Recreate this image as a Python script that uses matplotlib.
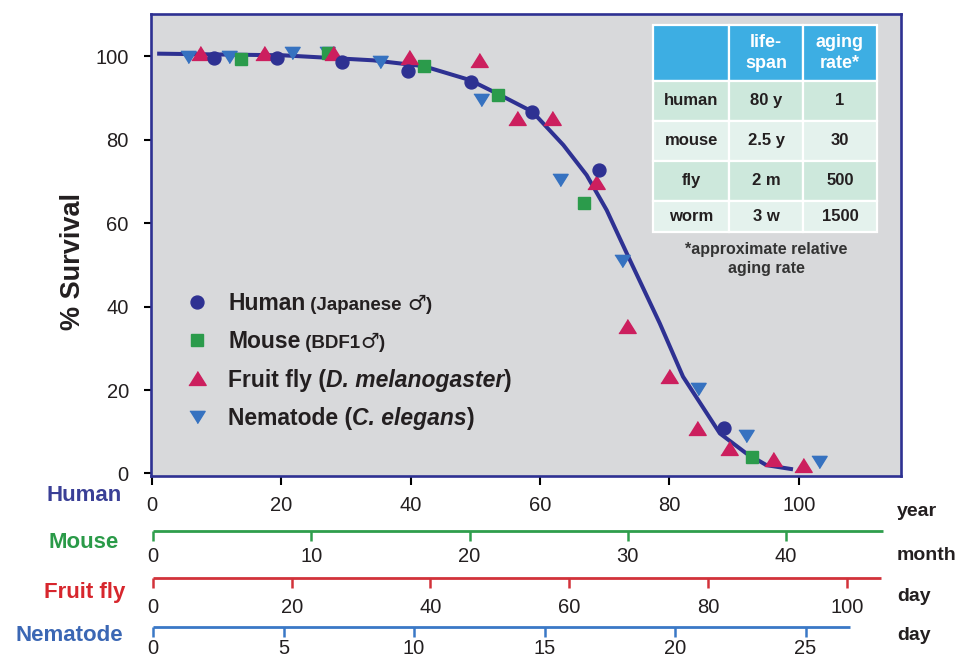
import matplotlib
matplotlib.use("Agg")
import matplotlib.pyplot as plt

plt.rcParams['font.family'] = ['Liberation Sans', 'DejaVu Sans']

W, H = 960, 657

# 데이터
human_age = [9.6, 19.3, 29.4, 39.6, 49.3, 58.8, 69.1, 88.5]
human_surv = [99.6, 99.6, 98.5, 96.4, 93.7, 86.7, 72.7, 11.0]

mouse_age = [13.8, 27.2, 42.0, 53.5, 66.8, 92.8]
mouse_surv = [99.3, 100.8, 97.6, 90.6, 64.9, 3.9]

fly_age = [7.4, 17.3, 28.0, 39.8, 50.5, 56.5, 61.9, 68.6, 73.5, 79.9, 84.2, 89.2, 96.0, 100.7]
fly_surv = [100.8, 100.8, 100.8, 99.7, 99.0, 85.1, 85.3, 69.9, 35.4, 23.4, 11.0, 6.2, 3.5, 2.0]

worm_age = [5.6, 11.9, 21.6, 27.0, 35.2, 50.8, 63.1, 72.7, 84.4, 91.8, 103.1]
worm_surv = [99.8, 99.8, 100.8, 100.8, 98.6, 89.5, 70.3, 50.9, 20.2, 9.1, 2.7]

curve_age = [0.8, 20.3, 34.2, 42.0, 49.1, 53.8, 58.8, 63.6, 67.2, 70.3, 73.9,
             78.5, 82.1, 87.8, 91.9, 95.0, 99.1]
curve_surv = [100.6, 100.2, 99.0, 97.6, 94.3, 90.7, 86.7, 78.7, 71.5, 63.1, 51.1,
              36.0, 23.2, 9.6, 4.8, 2.0, 1.0]

human_ticks = [0, 20, 40, 60, 80, 100]
mouse_ticks = [0, 10, 20, 30, 40]
fly_ticks = [0, 20, 40, 60, 80, 100]
worm_ticks = [0, 5, 10, 15, 20, 25]
y_ticks = [0, 20, 40, 60, 80, 100]

# 표 데이터
table_header = ["", "life-\nspan", "aging\nrate*"]
table_species = ["human", "mouse", "fly", "worm"]
table_lifespan = ["80 y", "2.5 y", "2 m", "3 w"]
table_rate = ["1", "30", "500", "1500"]

NAVY = "#2e3192"
GREEN = "#2b9b4b"
CRIMSON = "#cc1f5e"
BLUE = "#3672c0"
TEXT = "#231f20"

fig = plt.figure(figsize=(W / 100, H / 100), dpi=100)

# 메인 축 (픽셀 위치 기준)
ax_l, ax_r, ax_t, ax_b = 151, 901, 14, 476
ax = fig.add_axes([ax_l / W, 1 - ax_b / H, (ax_r - ax_l) / W, (ax_b - ax_t) / H])
ax.set_facecolor("#d8d9db")
ax.set_xlim(-0.15, 115.8)
ax.set_ylim(-0.6, 110.1)
for sp in ax.spines.values():
    sp.set_color(NAVY)
    sp.set_linewidth(1.9)

ax.set_yticks(y_ticks)
ax.set_xticks(human_ticks)
ax.tick_params(axis='y', direction='out', length=5, width=1.5, color='black',
               labelsize=14.5, pad=11, labelcolor=TEXT)
ax.tick_params(axis='x', direction='out', length=6.5, width=1.5, color='black',
               labelsize=14.5, pad=8, labelcolor=TEXT)

# 곡선 + 마커
ax.plot(curve_age, curve_surv, color=NAVY, lw=2.9, zorder=2,
        solid_capstyle='butt', solid_joinstyle='round')

tri_up = [(-1, -0.8), (1, -0.8), (0, 0.8)]
tri_dn = [(-1, 0.8), (1, 0.8), (0, -0.8)]

ax.plot(worm_age, worm_surv, ls='none', marker=tri_dn, ms=11, color=BLUE, mec=BLUE, zorder=3)
ax.plot(mouse_age, mouse_surv, ls='none', marker='s', ms=8, color=GREEN, mec=GREEN, zorder=4)
ax.plot(fly_age, fly_surv, ls='none', marker=tri_up, ms=12.5, color=CRIMSON, mec=CRIMSON, zorder=5)
ax.plot(human_age, human_surv, ls='none', marker='o', ms=9.3, color=NAVY, mec=NAVY, zorder=6)


def px2ax(px, py):
    return (px - ax_l) / (ax_r - ax_l), (ax_b - py) / (ax_b - ax_t)


# 범례 마커
legend_rows = [
    (302, 'o', 9.3, NAVY),
    (340, 's', 8, GREEN),
    (378, tri_up, 12.5, CRIMSON),
    (417, tri_dn, 11, BLUE),
]
for py, mk, ms, col in legend_rows:
    lx, ly = px2ax(197, py)
    ax.plot([lx], [ly], transform=ax.transAxes, ls='none', marker=mk, ms=ms,
            color=col, mec=col, clip_on=False, zorder=7)

renderer = fig.canvas.get_renderer()


def rich_text(x, y, parts):
    # 여러 조각 텍스트를 이어 붙이기 (픽셀 좌표, 위쪽 원점)
    xd = x
    for s, kw in parts:
        t = fig.text(xd / W, 1 - y / H, s, ha='left', va='baseline', color=TEXT, **kw)
        bb = t.get_window_extent(renderer)
        xd = bb.x1


big = dict(fontsize=16.5, fontweight='bold')
bigi = dict(fontsize=16.5, fontweight='bold', fontstyle='italic')
small = dict(fontsize=13.5, fontweight='bold')
male = dict(fontsize=15, fontweight='normal', family=['DejaVu Sans'])

rich_text(228, 310.5, [("Human", big), (" (Japanese ", small), ("\u2642", male), (")", small)])
rich_text(228, 348.5, [("Mouse", big), (" (BDF1", small), ("\u2642", male), (")", small)])
rich_text(228, 386.5, [("Fruit fly (", big), ("D. melanogaster", bigi), (")", big)])
rich_text(228, 425.0, [("Nematode (", big), ("C. elegans", bigi), (")", big)])

# y축 라벨
fig.text(73 / W, 1 - 261 / H, "% Survival", rotation=90, ha='center', va='center',
         fontsize=19.5, fontweight='bold', color=TEXT)

# 표
tx0, ty0 = px2ax(653.3, 231.7)
tx1, ty1 = px2ax(877.3, 25)
cell_text = [[s, l, r] for s, l, r in zip(table_species, table_lifespan, table_rate)]
col_w = [76, 73.4, 74.6]
tbl = ax.table(cellText=cell_text, colLabels=table_header, cellLoc='center',
               colWidths=[c / sum(col_w) for c in col_w],
               bbox=[tx0, ty0, tx1 - tx0, ty1 - ty0], zorder=8)
tbl.auto_set_font_size(False)
row_h = [56, 40, 40, 40, 31]
row_col = ["#3daee3", "#cde8dc", "#e4f2ed", "#cde8dc", "#e4f2ed"]
for (r, c), cell in tbl.get_celld().items():
    cell.set_height(row_h[r] / sum(row_h))
    cell.set_edgecolor("white")
    cell.set_linewidth(1.6)
    cell.set_facecolor(row_col[r])
    txt = cell.get_text()
    if r == 0:
        txt.set_color("white")
        txt.set_fontsize(13)
        txt.set_linespacing(1.3)
    else:
        txt.set_color(TEXT)
        txt.set_fontsize(12)
    txt.set_fontweight('bold')

fx, fy = px2ax(766, 259)
ax.text(fx, fy, "*approximate relative\naging rate", transform=ax.transAxes,
        ha='center', va='center', fontsize=11.5, fontweight='bold', color="#333333",
        linespacing=1.3)


# 아래쪽 보조 축들
def scale_axis(y_px, x1_px, max_val, ticks, color, pad):
    a = fig.add_axes([153 / W, 1 - y_px / H, (x1_px - 153) / W, 0.0001])
    a.set_xlim(0, max_val)
    a.set_xticks(ticks)
    a.set_yticks([])
    a.patch.set_visible(False)
    for k in ['top', 'left', 'right']:
        a.spines[k].set_visible(False)
    a.spines['bottom'].set_color(color)
    a.spines['bottom'].set_linewidth(2)
    a.spines['bottom'].set_capstyle('butt')
    a.tick_params(axis='x', direction='out', length=7, width=1.8, color=color,
                  labelsize=14.5, pad=pad, labelcolor=TEXT)
    return a


scale_axis(530.7, 882.7, 46.1, mouse_ticks, "#2f9e4c", 4.5)
scale_axis(578.3, 880.7, 104.9, fly_ticks, "#d2323a", 7)
scale_axis(626.7, 850.0, 26.7, worm_ticks, "#3a78c6", 2)

# 왼쪽 종 이름
left_labels = [
    ("Human", 122, 500.7, "#3a3f96"),
    ("Mouse", 119, 548.3, "#2a9a48"),
    ("Fruit fly", 125, 598.3, "#d7262d"),
    ("Nematode", 123, 640.7, "#3b67b4"),
]
for s, x, y, col in left_labels:
    fig.text(x / W, 1 - y / H, s, ha='right', va='baseline', fontsize=16,
             fontweight='bold', color=col)

# 오른쪽 단위
units = [("year", 516.5), ("month", 560.5), ("day", 601), ("day", 639.5)]
for s, y in units:
    fig.text(897 / W, 1 - y / H, s, ha='left', va='baseline', fontsize=14,
             fontweight='bold', color=TEXT)

fig.savefig("out.png", dpi=100)
